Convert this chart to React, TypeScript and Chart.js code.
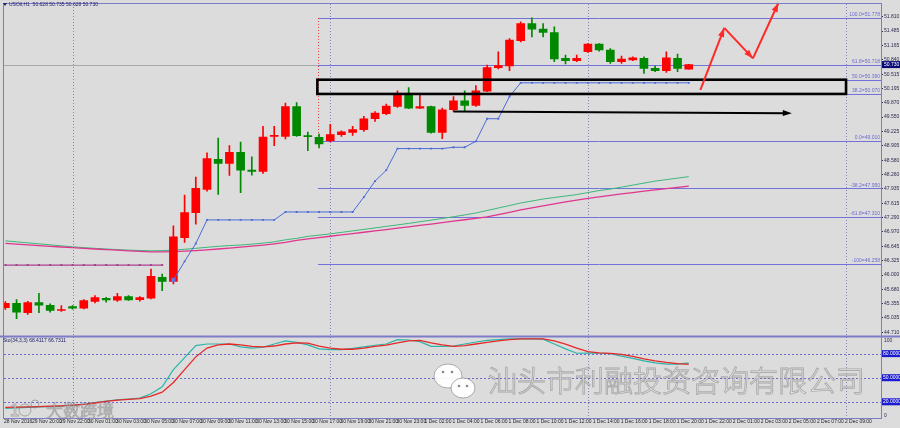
import React, { useEffect, useRef } from 'react';
import { Chart, registerables } from 'chart.js';

Chart.register(...registerables);

const timeLabels = [
  '28 Nov 2016', '29 Nov 20:00', '29 Nov 22:00', '30 Nov 01:00', '30 Nov 03:00', '30 Nov 05:00',
  '30 Nov 07:00', '30 Nov 09:00', '30 Nov 11:00', '30 Nov 13:00', '30 Nov 15:00', '30 Nov 17:00',
  '30 Nov 19:00', '30 Nov 21:00', '30 Nov 23:00', '1 Dec 02:00', '1 Dec 04:00', '1 Dec 06:00',
  '1 Dec 08:00', '1 Dec 10:00', '1 Dec 12:00', '1 Dec 14:00', '1 Dec 16:00', '1 Dec 18:00',
  '1 Dec 20:00', '1 Dec 22:00', '2 Dec 01:00', '2 Dec 03:00', '2 Dec 05:00', '2 Dec 07:00', '2 Dec 09:00',
];

const priceTicks = [
  44.710, 45.035, 45.355, 45.680, 46.000, 46.325, 46.645, 46.970, 47.290, 47.615, 47.935, 48.260,
  48.580, 48.905, 49.225, 49.550, 49.870, 50.195, 50.515, 50.840, 51.165, 51.485, 51.810,
];

const opens = [
  45.263, 45.365, 45.151, 45.381, 45.321, 45.202, 45.292, 45.254, 45.404, 45.477, 45.433, 45.515, 45.448,
  45.477, 45.947, 45.858, 46.842, 47.401, 47.925, 48.603, 48.506, 48.759, 48.356, 48.327, 49.117, 49.117,
  49.788, 49.133, 49.095, 49.021, 49.155, 49.207, 49.267, 49.513, 49.625, 49.788, 50.086, 49.750, 49.788,
  49.207, 49.714, 49.916, 49.811, 50.135, 50.661, 50.699, 51.265, 51.652, 51.526, 51.451, 50.869, 50.817,
  51.019, 51.191, 51.057, 50.795, 50.833, 50.869, 50.645, 50.594, 50.869, 50.628,
];
const highs = [
  45.404, 45.448, 45.410, 45.589, 45.352, 45.314, 45.314, 45.448, 45.538, 45.500, 45.589, 45.538, 45.515,
  46.135, 46.023, 47.104, 47.797, 48.200, 48.744, 49.079, 48.909, 48.990, 48.654, 49.341, 49.341, 49.862,
  49.878, 49.213, 49.169, 49.386, 49.240, 49.341, 49.565, 49.676, 49.840, 50.139, 50.213, 50.050, 49.800,
  49.750, 50.012, 50.139, 50.258, 50.721, 51.019, 51.316, 51.690, 51.779, 51.652, 51.578, 50.945, 50.945,
  51.204, 51.204, 51.092, 50.922, 50.907, 50.907, 50.699, 51.019, 50.967, 50.735,
];
const lows = [
  45.225, 45.016, 45.113, 45.151, 45.164, 45.180, 45.231, 45.240, 45.374, 45.388, 45.404, 45.426, 45.410,
  45.464, 45.650, 45.799, 46.730, 47.142, 47.887, 47.813, 48.238, 47.849, 48.245, 48.283, 48.909, 49.057,
  49.117, 48.797, 48.855, 48.994, 49.117, 49.140, 49.229, 49.453, 49.603, 49.766, 49.737, 49.737, 49.191,
  49.066, 49.676, 49.676, 49.788, 50.124, 50.632, 50.594, 51.242, 51.354, 51.354, 50.795, 50.743, 50.795,
  51.003, 51.034, 50.757, 50.757, 50.817, 50.533, 50.571, 50.556, 50.571, 50.628,
];
const closes = [
  45.365, 45.164, 45.381, 45.321, 45.202, 45.218, 45.254, 45.426, 45.493, 45.442, 45.515, 45.442, 45.493,
  45.969, 45.858, 46.858, 47.401, 47.947, 48.618, 48.506, 48.759, 48.356, 48.327, 49.101, 49.133, 49.788,
  49.133, 49.110, 48.949, 49.155, 49.218, 49.267, 49.513, 49.638, 49.795, 50.086, 49.750, 49.788, 49.207,
  49.714, 49.916, 49.811, 50.139, 50.661, 50.705, 51.280, 51.652, 51.526, 51.451, 50.855, 50.817, 50.869,
  51.191, 51.057, 50.795, 50.855, 50.884, 50.645, 50.594, 50.884, 50.645, 50.730,
];

const stopLine = [
  null, null, null, null, null, null, null, null, null, null, null, null, null, null, null,
  45.889, 46.305, 46.708, 47.238, 47.238, 47.238, 47.238, 47.238, 47.238, 47.238, 47.417, 47.417,
  47.417, 47.417, 47.417, 47.417, 47.417, 47.752, 48.110, 48.356, 48.842, 48.842, 48.842, 48.842,
  48.842, 48.871, 48.871, 49.005, 49.513, 49.513, 50.012, 50.320, 50.320, 50.320, 50.320, 50.320,
  50.320, 50.320, 50.320, 50.320, 50.320, 50.320, 50.320, 50.320, 50.320, 50.320, 50.320,
];
const prevStop = [
  46.224, 46.224, 46.224, 46.224, 46.224, 46.224, 46.224, 46.224, 46.224, 46.224, 46.224, 46.224,
  46.224, 46.224, 46.224,
];

const maGreen = [
  46.768, 46.746, 46.723, 46.701, 46.679, 46.656, 46.634, 46.616, 46.600, 46.585, 46.571, 46.560, 46.551,
  46.544, 46.549, 46.560, 46.578, 46.600, 46.623, 46.645, 46.661, 46.674, 46.694, 46.717, 46.746, 46.791,
  46.824, 46.869, 46.896, 46.925, 46.958, 46.992, 47.025, 47.059, 47.093, 47.126, 47.160, 47.198, 47.233,
  47.271, 47.310, 47.350, 47.395, 47.450, 47.506, 47.562, 47.618, 47.663, 47.708, 47.741, 47.775, 47.808,
  47.853, 47.898, 47.931, 47.976, 48.021, 48.066, 48.110, 48.144, 48.178, 48.211,
];
const maPink = [
  46.712, 46.694, 46.679, 46.661, 46.645, 46.629, 46.616, 46.600, 46.585, 46.571, 46.558, 46.544, 46.533,
  46.522, 46.522, 46.527, 46.536, 46.549, 46.567, 46.585, 46.605, 46.625, 46.647, 46.672, 46.701, 46.735,
  46.779, 46.811, 46.840, 46.871, 46.900, 46.931, 46.961, 46.992, 47.021, 47.052, 47.084, 47.115, 47.146,
  47.178, 47.209, 47.242, 47.274, 47.305, 47.356, 47.408, 47.462, 47.511, 47.556, 47.600, 47.645, 47.685,
  47.723, 47.757, 47.791, 47.822, 47.853, 47.884, 47.914, 47.943, 47.972, 47.999,
];

const stoMain = [
  11.8, 12.5, 13, 13.5, 14, 14.5, 15.5, 17, 19, 21, 22.5, 23.5, 24.5, 30, 38.6, 60, 75, 90, 92, 92, 92,
  88.5, 87, 88, 92, 96, 94, 91, 86, 85, 85, 86.5, 88.5, 90.5, 92, 97.5, 97, 95, 89, 89, 89.5, 92, 94.5,
  96.5, 97.5, 98.5, 98.5, 98.5, 98, 92, 86, 80.5, 80.7, 80.5, 80, 77, 74, 71, 68.5, 67, 67, 68.4,
];
const stoSignal = [
  13, 13.3, 13.6, 14, 14.5, 15, 15.8, 16.8, 18.5, 20.5, 22, 23, 24, 27, 32, 44, 60, 76, 87, 91, 92, 91,
  89, 88.5, 89.5, 92, 93.5, 93, 89.5, 87, 85.5, 85.5, 87, 89, 90.5, 93.5, 96, 96.5, 93.5, 91, 89, 90,
  92, 94, 96, 97.5, 98.5, 98.5, 98.5, 96, 92, 87, 82.5, 81, 80.3, 79, 76.5, 73.5, 71, 69, 67.5, 66.7,
];

const fibPrices = [51.778, 50.718, 50.390, 50.070, 49.010, 47.950, 47.310, 46.258];
const fibTexts = ['100.0=51.778', '61.8=50.718', '50.0=50.390', '38.2=50.070', '0.0=49.010', '-38.2=47.950', '-61.8=47.310', '-100=46.258'];
const stoLevels = [80, 50, 20];
const stoLevelTexts = ['80.0000', '50.0000', '20.0000'];
const separatorBars = [6, 29, 52, 75];
const lastPrice = 50.730;
const headerText = 'USOil,H1  50.628 50.735 50.628 50.730';
const stoHeaderText = 'Sto(34,3,3) 68.4117 66.7311';
const fibAnchorBar = 27.91;
const fibLow = 49.010;
const fibHigh = 51.778;
const zoneBars = [27.85, 75.04];
const zonePrices = [50.390, 50.070];
const hArrowBars = [40, 70.2];
const hArrowPrices = [49.676, 49.638];
const zigBars = [62.04, 64.17, 66.73, 69.0];
const zigPrices = [50.162, 51.555, 50.869, 52.115];
const watermark = '汕头市利融投资咨询有限公司';
const watermark2 = '大数跨境';

const X_MIN = -0.12;
const X_MAX = 78.16;
const LABEL_STEP = 2.502;
const BG = '#dcdcdc';
const UP = '#ff0000';
const DOWN = '#008800';
const FRAME = '#7c7cc8';
const FONT = '"Liberation Sans", Arial, sans-serif';

function arrowHead(ctx: CanvasRenderingContext2D, x0: number, y0: number, x1: number, y1: number, len: number, half: number, color: string) {
  const a = Math.atan2(y1 - y0, x1 - x0);
  const c = Math.cos(a), s = Math.sin(a);
  ctx.beginPath();
  ctx.moveTo(x1, y1);
  ctx.lineTo(x1 - len * c + half * s, y1 - len * s - half * c);
  ctx.lineTo(x1 - len * c - half * s, y1 - len * s + half * c);
  ctx.closePath();
  ctx.fillStyle = color;
  ctx.fill();
}

const overlay = {
  id: 'overlay',
  beforeDraw(chart: any) {
    const { ctx, width, height } = chart;
    ctx.save();
    ctx.fillStyle = BG;
    ctx.fillRect(0, 0, width, height);
    ctx.restore();
  },
  beforeDatasetsDraw(chart: any) {
    const { ctx, chartArea: ca } = chart;
    const x = chart.scales.x, y = chart.scales.y, y2 = chart.scales.y2;
    ctx.save();
    ctx.strokeStyle = '#8585b5';
    ctx.lineWidth = 1;
    ctx.setLineDash([1, 2]);
    separatorBars.forEach((b) => {
      const px = Math.round(x.getPixelForValue(b)) + 0.5;
      ctx.beginPath();
      ctx.moveTo(px, ca.top);
      ctx.lineTo(px, ca.bottom);
      ctx.stroke();
    });
    ctx.strokeStyle = '#6c6cd0';
    ctx.setLineDash([2, 2]);
    stoLevels.forEach((v) => {
      const py = Math.round(y2.getPixelForValue(v)) + 0.5;
      ctx.beginPath();
      ctx.moveTo(ca.left, py);
      ctx.lineTo(ca.right, py);
      ctx.stroke();
    });
    ctx.setLineDash([]);
    const bid = Math.round(y.getPixelForValue(lastPrice)) + 0.5;
    ctx.strokeStyle = '#a8a8a8';
    ctx.beginPath();
    ctx.moveTo(ca.left, bid);
    ctx.lineTo(ca.right, bid);
    ctx.stroke();
    const fx = x.getPixelForValue(fibAnchorBar);
    ctx.strokeStyle = '#7272d8';
    fibPrices.forEach((p) => {
      const py = Math.round(y.getPixelForValue(p)) + 0.5;
      ctx.beginPath();
      ctx.moveTo(fx, py);
      ctx.lineTo(ca.right, py);
      ctx.stroke();
    });
    ctx.strokeStyle = '#e04040';
    ctx.setLineDash([1, 2]);
    ctx.beginPath();
    ctx.moveTo(Math.round(fx) + 0.5, y.getPixelForValue(fibHigh));
    ctx.lineTo(Math.round(fx) + 0.5, y.getPixelForValue(fibLow));
    ctx.stroke();
    ctx.setLineDash([]);
    ctx.restore();
  },
  afterDatasetsDraw(chart: any) {
    const { ctx, chartArea: ca, width } = chart;
    const x = chart.scales.x, y = chart.scales.y, y2 = chart.scales.y2;
    ctx.save();
    ctx.font = `5px ${FONT}`;
    ctx.fillStyle = '#6a6ad0';
    ctx.textAlign = 'right';
    ctx.textBaseline = 'bottom';
    fibPrices.forEach((p, i) => {
      ctx.fillText(fibTexts[i], ca.right - 1, y.getPixelForValue(p) - 0.5);
    });
    const rx0 = x.getPixelForValue(zoneBars[0]);
    const rx1 = x.getPixelForValue(zoneBars[1]);
    const ry0 = y.getPixelForValue(zonePrices[0]);
    const ry1 = y.getPixelForValue(zonePrices[1]);
    ctx.strokeStyle = '#000';
    ctx.lineWidth = 2.6;
    ctx.strokeRect(rx0, ry0, rx1 - rx0, ry1 - ry0);
    const ax0 = x.getPixelForValue(hArrowBars[0]), ay0 = y.getPixelForValue(hArrowPrices[0]);
    const ax1 = x.getPixelForValue(hArrowBars[1]), ay1 = y.getPixelForValue(hArrowPrices[1]);
    ctx.lineWidth = 2;
    ctx.beginPath();
    ctx.moveTo(ax0, ay0);
    ctx.lineTo(ax1 - 5, ay1);
    ctx.stroke();
    arrowHead(ctx, ax0, ay0, ax1, ay1, 9, 3, '#000');
    ctx.strokeStyle = '#ff2a2a';
    ctx.lineWidth = 2;
    for (let i = 0; i < zigBars.length - 1; i++) {
      const p0x = x.getPixelForValue(zigBars[i]), p0y = y.getPixelForValue(zigPrices[i]);
      const p1x = x.getPixelForValue(zigBars[i + 1]), p1y = y.getPixelForValue(zigPrices[i + 1]);
      ctx.beginPath();
      ctx.moveTo(p0x, p0y);
      ctx.lineTo(p1x, p1y);
      ctx.stroke();
      arrowHead(ctx, p0x, p0y, p1x, p1y, 9, 3.2, '#ff2a2a');
    }
    ctx.strokeStyle = FRAME;
    ctx.lineWidth = 1;
    ctx.strokeRect(ca.left - 0.5, ca.top - 0.5, ca.right - ca.left + 1, ca.bottom - ca.top + 1);
    ctx.lineWidth = 2;
    ctx.beginPath();
    ctx.moveTo(0, y.bottom);
    ctx.lineTo(width, y.bottom);
    ctx.stroke();
    const bp = y.getPixelForValue(lastPrice);
    ctx.fillStyle = '#0a0a78';
    ctx.fillRect(ca.right + 1, bp - 3.5, width - ca.right - 1, 7);
    ctx.fillStyle = '#ffffff';
    ctx.font = `5px ${FONT}`;
    ctx.textAlign = 'left';
    ctx.textBaseline = 'middle';
    ctx.fillText(lastPrice.toFixed(3), ca.right + 3, bp);
    stoLevels.forEach((v, i) => {
      const py = y2.getPixelForValue(v);
      ctx.fillStyle = '#1a1ad0';
      ctx.fillRect(ca.right + 1, py - 3.5, width - ca.right - 1, 7);
      ctx.fillStyle = '#ffffff';
      ctx.fillText(stoLevelTexts[i], ca.right + 2, py);
    });
    ctx.fillStyle = '#2a2a50';
    ctx.fillText('100', ca.right + 3, y2.getPixelForValue(100) + 3);
    ctx.fillText('0', ca.right + 3, y2.getPixelForValue(0) - 2);
    ctx.fillStyle = '#20206a';
    ctx.beginPath();
    ctx.moveTo(3, 3);
    ctx.lineTo(7, 3);
    ctx.lineTo(5, 6);
    ctx.closePath();
    ctx.fill();
    ctx.textBaseline = 'middle';
    ctx.fillText(headerText, 9, 4.5);
    ctx.fillText(stoHeaderText, 3, y2.top + 4);
    ctx.font = `300 29px "Noto Sans CJK SC", sans-serif`;
    ctx.textAlign = 'left';
    ctx.textBaseline = 'middle';
    ctx.lineWidth = 1;
    ctx.fillStyle = 'rgba(255,255,255,0.8)';
    ctx.strokeStyle = 'rgba(120,120,120,0.55)';
    ctx.fillText(watermark, 488, 381);
    ctx.strokeText(watermark, 488, 381);
    ctx.font = `300 17px "Noto Sans CJK SC", sans-serif`;
    ctx.fillText(watermark2, 46, 411);
    ctx.strokeText(watermark2, 46, 411);
    ctx.font = `300 17px ${FONT}`;
    ctx.fillText('1', 10, 411);
    ctx.strokeText('1', 10, 411);
    ctx.beginPath();
    ctx.arc(25, 410, 6, 0, Math.PI * 2);
    ctx.stroke();
    ctx.beginPath();
    ctx.arc(35, 404, 4, 0, Math.PI * 2);
    ctx.stroke();
    ctx.fillStyle = 'rgba(255,255,255,0.92)';
    ctx.strokeStyle = 'rgba(140,140,140,0.7)';
    ctx.beginPath();
    ctx.ellipse(448, 376, 14, 12, 0, 0, Math.PI * 2);
    ctx.fill();
    ctx.stroke();
    ctx.beginPath();
    ctx.ellipse(463, 388, 12, 10, 0, 0, Math.PI * 2);
    ctx.fill();
    ctx.stroke();
    ctx.fillStyle = 'rgba(110,110,110,0.8)';
    [[443, 372], [452, 372], [459, 386], [467, 386]].forEach(([cx, cy]) => {
      ctx.beginPath();
      ctx.arc(cx, cy, 1.3, 0, Math.PI * 2);
      ctx.fill();
    });
    ctx.restore();
  },
};

export default function App() {
  const ref = useRef<HTMLCanvasElement>(null);
  useEffect(() => {
    const idx = opens.map((_, i) => i);
    const candleColors = idx.map((i) => (closes[i] >= opens[i] ? UP : DOWN));
    const pts = (arr: (number | null)[]) =>
      arr.map((v, i) => ({ x: i, y: v })).filter((p) => p.y !== null);
    const stopPts = pts(stopLine);
    const chart = new Chart(ref.current as HTMLCanvasElement, {
      type: 'bar',
      data: {
        datasets: [
          {
            type: 'line', label: 'MA slow', data: pts(maGreen) as any, yAxisID: 'y',
            borderColor: '#3cb878', borderWidth: 1, pointRadius: 0, order: 20,
          },
          {
            type: 'line', label: 'MA fast', data: pts(maPink) as any, yAxisID: 'y',
            borderColor: '#e0358e', borderWidth: 1.3, pointRadius: 0, order: 19,
          },
          {
            type: 'bar', label: 'wick', yAxisID: 'y',
            data: idx.map((i) => ({ x: i, y: [lows[i], highs[i]] })) as any,
            backgroundColor: candleColors, barThickness: 1, grouped: false, order: 12,
          },
          {
            type: 'bar', label: 'body', yAxisID: 'y',
            data: idx.map((i) => ({ x: i, y: [opens[i], closes[i]] })) as any,
            backgroundColor: candleColors, barThickness: 8, grouped: false, minBarLength: 1, order: 11,
          },
          {
            type: 'line', label: 'prev stop', data: pts(prevStop) as any, yAxisID: 'y',
            borderColor: '#a8408f', borderWidth: 1.2, pointRadius: 1.4, pointStyle: 'rect',
            pointBackgroundColor: '#a8408f', pointBorderWidth: 0, order: 6,
          },
          {
            type: 'line', label: 'stop', data: stopPts as any, yAxisID: 'y',
            borderColor: '#4a6ad8', borderWidth: 1,
            pointRadius: stopPts.map((_, i) => (i === 0 ? 3 : 1.3)),
            pointStyle: 'rect',
            pointBackgroundColor: stopPts.map((_, i) => (i === 0 ? '#6270e0' : '#4a6ad8')),
            pointBorderWidth: 0, order: 5,
          },
          {
            type: 'line', label: 'Sto main', data: pts(stoMain) as any, yAxisID: 'y2',
            borderColor: '#2ab5a8', borderWidth: 1.2, pointRadius: 0, order: 4,
          },
          {
            type: 'line', label: 'Sto signal', data: pts(stoSignal) as any, yAxisID: 'y2',
            borderColor: '#e82828', borderWidth: 1.3, pointRadius: 0, order: 3,
          },
        ],
      },
      options: {
        animation: false,
        responsive: false,
        maintainAspectRatio: false,
        events: [],
        layout: { padding: { left: 2, top: 2, right: 0, bottom: 0 } },
        plugins: { legend: { display: false }, tooltip: { enabled: false } },
        scales: {
          x: {
            type: 'linear', min: X_MIN, max: X_MAX, offset: false,
            grid: { display: false, offset: false, drawTicks: false, tickLength: 0 },
            border: { display: false },
            afterBuildTicks: (s: any) => {
              s.ticks = timeLabels.map((_, k) => ({ value: X_MIN + LABEL_STEP * k }));
            },
            afterFit: (s: any) => { s.height = 10; },
            ticks: {
              autoSkip: false, maxRotation: 0, minRotation: 0, align: 'start', padding: 1,
              color: '#222', font: { size: 5, family: FONT },
              callback: (_v: any, i: number) => timeLabels[i],
            },
          },
          y: {
            type: 'linear', position: 'right', stack: 'pane', stackWeight: 334,
            min: 44.620, max: 52.092,
            grid: { display: true, drawOnChartArea: false, drawTicks: true, tickLength: 2, color: '#2a2a50' },
            border: { display: false },
            afterBuildTicks: (s: any) => { s.ticks = priceTicks.map((v) => ({ value: v })); },
            afterFit: (s: any) => { s.width = 19; },
            ticks: {
              autoSkip: false, padding: 1, color: '#2a2a50', font: { size: 5, family: FONT },
              callback: (v: any) => Number(v).toFixed(3),
            },
          },
          y2: {
            type: 'linear', position: 'right', stack: 'pane', stackWeight: 82,
            min: -0.2, max: 101.5,
            grid: { display: false },
            border: { display: false },
            ticks: { display: false },
            afterFit: (s: any) => { s.width = 19; },
          },
        },
      } as any,
      plugins: [overlay],
    });
    return () => chart.destroy();
  }, []);
  return (
    <div style={{ position: 'fixed', left: 0, top: 0, width: 900, height: 428, background: BG }}>
      <canvas ref={ref} width={900} height={428} style={{ display: 'block', width: 900, height: 428 }} />
    </div>
  );
}
